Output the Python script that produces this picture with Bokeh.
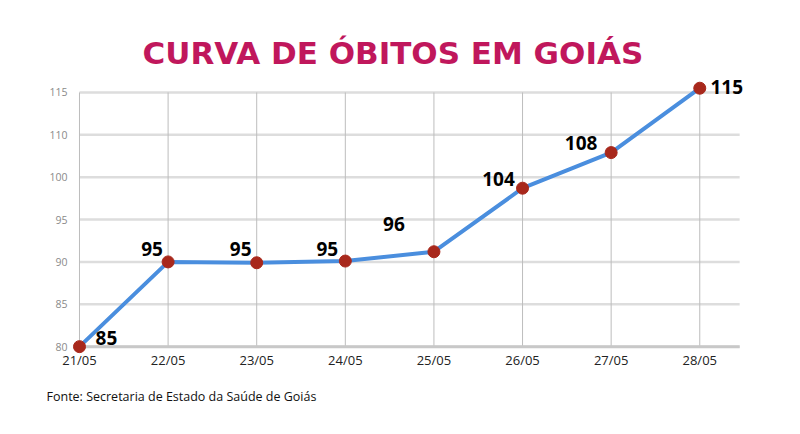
from bokeh.plotting import figure
from bokeh.models import ColumnDataSource, Range1d, FixedTicker, Title
from bokeh.core.properties import value
from bokeh.embed import file_html
from bokeh.resources import INLINE

# Data
dates = ["21/05", "22/05", "23/05", "24/05", "25/05", "26/05", "27/05", "28/05"]
deaths = [85, 95, 95, 95, 96, 104, 108, 115]              # value labels
plotted = [80, 90, 89.9, 90.1, 91.2, 98.7, 102.9, 110.5]  # drawn positions (axis units)
ytick_pos = [80, 85, 90, 95, 100, 105, 110]
ytick_labels = ["80", "85", "90", "95", "100", "110", "115"]

# label offsets (style)
lab_dx = [27, -16, -16, -18, -40, -24, -30, 27]
lab_dy = [-9, -13, -14, -12, -28, -9, -10, -1]

xs = list(range(len(dates)))
src = ColumnDataSource(dict(x=xs, y=plotted, lab=[str(v) for v in deaths], dx=lab_dx, dy=lab_dy))

X_END = 7.45
p = figure(width=784, height=418, output_backend="svg", toolbar_location=None,
           x_range=Range1d(-0.124, 7.55), y_range=Range1d(78.6, 112),
           min_border_left=68, min_border_right=36, min_border_top=75, min_border_bottom=60)
p.outline_line_color = None
p.background_fill_color = "white"
p.border_fill_color = "white"
p.xgrid.visible = False
p.ygrid.visible = False

# horizontal grid lines
n = len(ytick_pos)
p.segment(x0=[0]*n, y0=ytick_pos, x1=[X_END]*n, y1=ytick_pos, line_color="#dddddd", line_width=2.5)
# vertical lines at categories
p.segment(x0=xs, y0=[80]*len(xs), x1=xs, y1=[110]*len(xs), line_color="#bdbdbd", line_width=1)
# bottom axis line
p.segment(x0=[-0.02], y0=[80], x1=[X_END], y1=[80], line_color="#c8c8c8", line_width=3)

# axes
p.yaxis.ticker = FixedTicker(ticks=ytick_pos)
p.yaxis.major_label_overrides = {t: l for t, l in zip(ytick_pos, ytick_labels)}
p.yaxis.axis_line_color = None
p.yaxis.major_tick_line_color = None
p.yaxis.minor_tick_line_color = None
p.yaxis.major_tick_out = 0
p.yaxis.major_tick_in = 0
p.yaxis.major_label_text_font = "Open Sans"
p.yaxis.major_label_text_font_size = "10.5px"
p.yaxis.major_label_text_color = "#8a8a8a"
p.yaxis.major_label_standoff = 1

p.xaxis.ticker = FixedTicker(ticks=xs)
p.xaxis.major_label_overrides = {i: d for i, d in enumerate(dates)}
p.xaxis.axis_line_color = None
p.xaxis.major_tick_line_color = None
p.xaxis.minor_tick_line_color = None
p.xaxis.major_tick_out = 0
p.xaxis.major_tick_in = 0
p.xaxis.major_label_text_font = "Open Sans"
p.xaxis.major_label_text_font_size = "13px"
p.xaxis.major_label_text_color = "#222222"
p.xaxis.major_label_standoff = -8

# line + markers
p.line("x", "y", source=src, line_color="#4a8ede", line_width=4)
p.scatter("x", "y", source=src, size=12, fill_color="#a8281c", line_color="#a8281c")

# value labels
p.text("x", "y", text="lab", source=src, x_offset="dx", y_offset="dy",
       text_font=value("Open Sans"), text_font_style="bold", text_font_size="19px",
       text_color="black", text_align="center", text_baseline="middle")

# title and source
p.title = Title(text="CURVA DE ÓBITOS EM GOIÁS", align="left", offset=74,
                text_font="DejaVu Sans", text_font_style="bold", text_font_size="31px",
                text_color="#c0175c")
p.add_layout(Title(text="Fonte: Secretaria de Estado da Saúde de Goiás", align="left",
                   offset=-22, standoff=28, text_font="Open Sans", text_font_style="normal",
                   text_font_size="12.5px", text_color="#111111"), "below")

open("out.html", "w").write(file_html(p, INLINE))
